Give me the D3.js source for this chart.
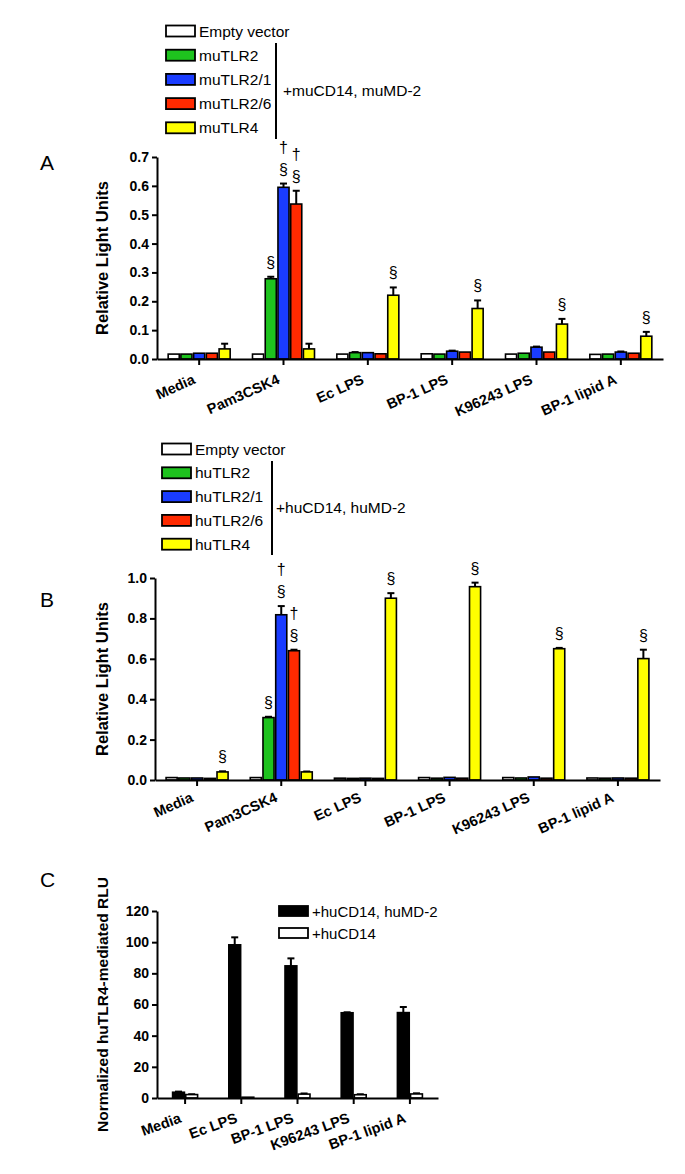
<!DOCTYPE html>
<html>
<head>
<meta charset="utf-8">
<script src="https://cdn.jsdelivr.net/npm/d3@7"></script>
<style>
  body { margin: 0; background: #fff; }
  text { font-family: "Liberation Sans", Arial, sans-serif; }
</style>
</head>
<body>
<svg id="fig" width="685" height="1174"></svg>
<script>
// ---- data ----
const stimuli = ["Media", "Pam3CSK4", "Ec LPS", "BP-1 LPS", "K96243 LPS", "BP-1 lipid A"];
const stimuliC = ["Media", "Ec LPS", "BP-1 LPS", "K96243 LPS", "BP-1 lipid A"];

const seriesA = ["Empty vector", "muTLR2", "muTLR2/1", "muTLR2/6", "muTLR4"];
const seriesB = ["Empty vector", "huTLR2", "huTLR2/1", "huTLR2/6", "huTLR4"];
const seriesC = ["+huCD14, huMD-2", "+huCD14"];

const colorsAB = ["#ffffff", "#1ec31e", "#1a3cff", "#ff2a00", "#ffff00"];
const colorsC = ["#000000", "#ffffff"];

// rows = stimuli, columns = series
const meanA = [
  [0.017, 0.017, 0.020, 0.020, 0.035],
  [0.017, 0.278, 0.595, 0.537, 0.035],
  [0.017, 0.022, 0.022, 0.018, 0.221],
  [0.018, 0.017, 0.027, 0.024, 0.175],
  [0.017, 0.020, 0.041, 0.024, 0.121],
  [0.016, 0.017, 0.024, 0.020, 0.079]
];
const semA = [
  [0, 0, 0, 0, 0.018],
  [0, 0.007, 0.013, 0.046, 0.018],
  [0, 0.002, 0, 0, 0.027],
  [0, 0, 0.002, 0, 0.028],
  [0, 0, 0.002, 0, 0.018],
  [0, 0, 0.002, 0, 0.015]
];
const meanB = [
  [0.012, 0.010, 0.010, 0.008, 0.040],
  [0.012, 0.309, 0.818, 0.640, 0.040],
  [0.009, 0.008, 0.009, 0.008, 0.900],
  [0.012, 0.009, 0.013, 0.009, 0.957],
  [0.012, 0.010, 0.015, 0.009, 0.650],
  [0.010, 0.009, 0.010, 0.009, 0.601]
];
const semB = [
  [0, 0, 0, 0, 0.003],
  [0, 0.004, 0.043, 0.005, 0.002],
  [0, 0, 0, 0, 0.025],
  [0, 0, 0, 0, 0.020],
  [0, 0, 0, 0, 0.004],
  [0, 0, 0, 0, 0.044]
];
const meanC = [
  [3.7, 2.2],
  [98.3, 0.5],
  [84.8, 2.5],
  [54.7, 2.1],
  [54.8, 2.6]
];
const semC = [
  [0.4, 0.2],
  [4.8, 0],
  [4.8, 0.4],
  [0.3, 0.3],
  [3.6, 0.4]
];

// significance marks: [stimulus index, series index, symbols from bottom up]
const sigA = [[1, 1, ["§"]], [1, 2, ["§", "†"]], [1, 3, ["§", "†"]],
              [2, 4, ["§"]], [3, 4, ["§"]], [4, 4, ["§"]], [5, 4, ["§"]]];
const sigB = [[0, 4, ["§"]], [1, 1, ["§"]], [1, 2, ["§", "†"]], [1, 3, ["§", "†"]],
              [2, 4, ["§"]], [3, 4, ["§"]], [4, 4, ["§"]], [5, 4, ["§"]]];

const ticksA = [0, 0.1, 0.2, 0.3, 0.4, 0.5, 0.6, 0.7];
const ticksB = [0, 0.2, 0.4, 0.6, 0.8, 1.0];
const ticksC = [0, 20, 40, 60, 80, 100, 120];

const svg = d3.select("#fig");

function drawPanel(p) {
  const g = svg.append("g");
  const x = d3.scaleBand().domain(p.cats).range([p.x0, p.x1]);
  const y = d3.scaleLinear().domain([0, p.max]).range([p.yBottom, p.yTop]);
  const xi = d3.scaleBand().domain(d3.range(p.series.length))
    .range([-p.groupW / 2, p.groupW / 2]).paddingInner(p.pad);

  const rows = [];
  p.means.forEach((row, i) => row.forEach((v, j) => {
    rows.push({ cat: p.cats[i], s: j, v: v, e: p.sems[i][j] });
  }));
  const cx = d => x(d.cat) + x.bandwidth() / 2 + xi(d.s);

  // error bars (upward only)
  const eb = rows.filter(d => d.e > 0);
  g.selectAll(".eb").data(eb).enter().append("line")
    .attr("x1", d => cx(d) + xi.bandwidth() / 2)
    .attr("x2", d => cx(d) + xi.bandwidth() / 2)
    .attr("y1", d => y(d.v)).attr("y2", d => y(d.v + d.e))
    .attr("stroke", "#000").attr("stroke-width", 2);
  g.selectAll(".cap").data(eb).enter().append("line")
    .attr("x1", d => cx(d) + xi.bandwidth() / 2 - 3.5)
    .attr("x2", d => cx(d) + xi.bandwidth() / 2 + 3.5)
    .attr("y1", d => y(d.v + d.e)).attr("y2", d => y(d.v + d.e))
    .attr("stroke", "#000").attr("stroke-width", 2);

  // bars
  g.selectAll(".bar").data(rows).enter().append("rect")
    .attr("x", d => cx(d))
    .attr("y", d => y(d.v))
    .attr("width", xi.bandwidth())
    .attr("height", d => y(0) - y(d.v))
    .attr("fill", d => p.colors[d.s])
    .attr("stroke", "#000").attr("stroke-width", 1.6);

  // significance symbols
  if (p.sig) {
    p.sig.forEach(([i, j, marks]) => {
      const top = y(p.means[i][j] + p.sems[i][j]);
      const xc = x(p.cats[i]) + x.bandwidth() / 2 + xi(j) + xi.bandwidth() / 2;
      marks.forEach((m, k) => {
        g.append("text").attr("x", xc).attr("y", top - 9 - k * 22)
          .attr("text-anchor", "middle").style("font-size", "16px").text(m);
      });
    });
  }

  // axes
  const ya = g.append("g").attr("transform", `translate(${p.x0},0)`)
    .call(d3.axisLeft(y).tickValues(p.ticks).tickFormat(d3.format(p.fmt))
      .tickSize(5).tickSizeOuter(0).tickPadding(3));
  const xa = g.append("g").attr("transform", `translate(0,${p.yBottom})`)
    .call(d3.axisBottom(x).tickSize(6).tickSizeOuter(0).tickFormat(""));
  [ya, xa].forEach(a => {
    a.selectAll("path, line").attr("stroke", "#000").attr("stroke-width", 2);
  });
  ya.selectAll("text").style("font-size", "14px").style("font-weight", "bold")
    .attr("fill", "#000");

  // rotated category labels
  g.selectAll(".xl").data(p.cats).enter().append("text")
    .attr("transform", d => `translate(${x(d) + x.bandwidth() / 2 - 3},${p.yBottom + p.labDy}) rotate(${p.angle})`)
    .attr("text-anchor", "end")
    .style("font-size", "14.5px").style("font-weight", "bold")
    .text(d => d);

  // axis title
  g.append("text")
    .attr("transform", `translate(108,${(p.yTop + p.yBottom) / 2}) rotate(-90)`)
    .attr("text-anchor", "middle")
    .style("font-size", p.titleFs).style("font-weight", "bold")
    .text(p.title);

  // panel letter
  g.append("text").attr("x", 40).attr("y", p.letterY)
    .style("font-size", "21px").text(p.letter);
}

function drawLegend(l) {
  const g = svg.append("g");
  l.series.forEach((s, i) => {
    const cy = l.y + i * l.step;
    g.append("rect").attr("x", l.x).attr("y", cy - l.h / 2)
      .attr("width", 29).attr("height", l.h)
      .attr("fill", l.colors[i]).attr("stroke", "#000").attr("stroke-width", 1.8);
    g.append("text").attr("x", l.x + 33).attr("y", cy + 5.5)
      .style("font-size", l.fs).text(s);
  });
  if (l.bracket) {
    const b = l.bracket;
    g.append("line").attr("x1", b.x).attr("x2", b.x)
      .attr("y1", b.y1).attr("y2", b.y2)
      .attr("stroke", "#000").attr("stroke-width", 2);
    g.append("text").attr("x", b.x + b.gap).attr("y", (b.y1 + b.y2) / 2 + 5)
      .style("font-size", l.fs).text(b.label);
  }
}

// Panel A
drawLegend({ series: seriesA, colors: colorsAB, x: 166, y: 31, step: 24.2, h: 11, fs: "15.5px",
  bracket: { x: 276, y1: 43, y2: 139, gap: 7, label: "+muCD14, muMD-2" } });
drawPanel({ cats: stimuli, series: seriesA, colors: colorsAB, means: meanA, sems: semA,
  sig: sigA, x0: 157, x1: 663, yTop: 157, yBottom: 359, max: 0.7, ticks: ticksA, fmt: ".1f",
  groupW: 62, pad: 0.13, title: "Relative Light Units", titleFs: "16.5px",
  angle: -24, labDy: 24, letter: "A", letterY: 170 });

// Panel B
drawLegend({ series: seriesB, colors: colorsAB, x: 162, y: 449, step: 23.8, h: 11, fs: "15.5px",
  bracket: { x: 272, y1: 461, y2: 555, gap: 4, label: "+huCD14, huMD-2" } });
drawPanel({ cats: stimuli, series: seriesB, colors: colorsAB, means: meanB, sems: semB,
  sig: sigB, x0: 155, x1: 660, yTop: 578, yBottom: 780, max: 1.0, ticks: ticksB, fmt: ".1f",
  groupW: 62, pad: 0.13, title: "Relative Light Units", titleFs: "16.5px",
  angle: -24, labDy: 21, letter: "B", letterY: 607 });

// Panel C
drawLegend({ series: seriesC, colors: colorsC, x: 279, y: 911, step: 22, h: 10, fs: "15px" });
drawPanel({ cats: stimuliC, series: seriesC, colors: colorsC, means: meanC, sems: semC,
  x0: 157, x1: 438, yTop: 911, yBottom: 1098, max: 120, ticks: ticksC, fmt: "d",
  groupW: 25, pad: 0.1, title: "Normalized huTLR4-mediated RLU", titleFs: "15.5px",
  angle: -20, labDy: 24, letter: "C", letterY: 887 });
</script>
</body>
</html>
